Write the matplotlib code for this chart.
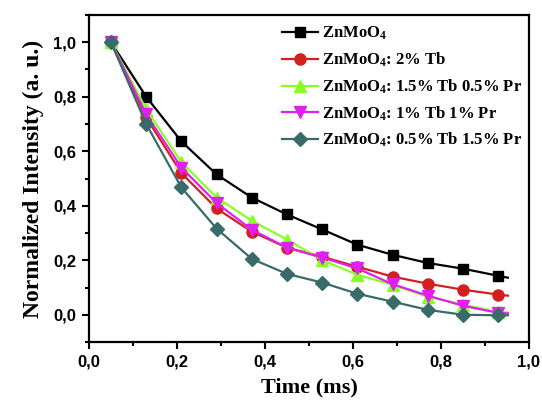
import matplotlib
matplotlib.use("Agg")
import matplotlib.pyplot as plt
from matplotlib.ticker import MultipleLocator, FixedLocator

plt.rcParams['mathtext.fontset'] = 'custom'
plt.rcParams['mathtext.rm'] = 'Liberation Serif:bold'
plt.rcParams['mathtext.bf'] = 'Liberation Serif:bold'
plt.rcParams['mathtext.it'] = 'Liberation Serif:bold'

# time axis (ms): marker positions plus end of line
time = [0.05, 0.13, 0.21, 0.29, 0.37, 0.45, 0.53, 0.61, 0.69, 0.77, 0.85, 0.93, 0.952]

zn     = [1.00, 0.800, 0.636, 0.515, 0.430, 0.368, 0.313, 0.257, 0.220, 0.190, 0.169, 0.143, 0.136]
tb2    = [1.00, 0.724, 0.520, 0.390, 0.305, 0.246, 0.213, 0.176, 0.140, 0.114, 0.092, 0.074, 0.070]
tb15pr05 = [1.00, 0.754, 0.560, 0.430, 0.345, 0.276, 0.200, 0.147, 0.110, 0.066, 0.037, 0.010, 0.008]
tb1pr1 = [1.00, 0.735, 0.540, 0.410, 0.312, 0.246, 0.210, 0.170, 0.112, 0.070, 0.033, 0.007, 0.005]
tb05pr15 = [1.00, 0.700, 0.467, 0.316, 0.205, 0.150, 0.118, 0.077, 0.048, 0.018, 0.000, -0.002, -0.002]

labels = [r'ZnMoO$_4$', r'ZnMoO$_4$: 2% Tb', r'ZnMoO$_4$: 1.5% Tb 0.5% Pr',
          r'ZnMoO$_4$: 1% Tb 1% Pr', r'ZnMoO$_4$: 0.5% Tb 1.5% Pr']
series = [zn, tb2, tb15pr05, tb1pr1, tb05pr15]
colors = ['#000000', '#d41f1f', '#88ff22', '#e020f0', '#3a6b6b']
markers = ['s', 'o', '^', 'v', 'D']
msizes = [7.5, 8, 8.5, 8.5, 7.5]

xticks = [0.0, 0.2, 0.4, 0.6, 0.8, 1.0]
xticklabels = ['0,0', '0,2', '0,4', '0,6', '0,8', '1,0']
yticks = [0.0, 0.2, 0.4, 0.6, 0.8, 1.0]
yticklabels = ['0,0', '0,2', '0,4', '0,6', '0,8', '1,0']

fig = plt.figure(figsize=(5.42, 4.05), dpi=100)
fig.patch.set_facecolor('white')
ax = fig.add_axes([89/542, (405-342)/405, 440/542, 327/405])

for y, c, m, ms, lab in zip(series, colors, markers, msizes, labels):
    ax.plot(time, y, color=c, marker=m, markersize=ms, linewidth=1.6,
            markevery=slice(0, 12), label=lab)

ax.set_xlim(0, 1.0)
ax.set_ylim(-0.1, 1.1)
ax.xaxis.set_major_locator(FixedLocator(xticks))
ax.yaxis.set_major_locator(FixedLocator(yticks))
ax.set_xticklabels(xticklabels)
ax.set_yticklabels(yticklabels)
ax.xaxis.set_minor_locator(MultipleLocator(0.1))
ax.yaxis.set_minor_locator(MultipleLocator(0.1))

for s in ax.spines.values():
    s.set_linewidth(1.6)
ax.tick_params(which='major', direction='out', length=5, width=1.5,
               top=False, right=False, pad=4)
ax.tick_params(which='minor', direction='out', length=3, width=1.5,
               top=False, right=False)
for t in ax.get_xticklabels() + ax.get_yticklabels():
    t.set_fontfamily('Liberation Sans')
    t.set_fontweight('bold')
    t.set_fontsize(12)

ax.set_xlabel('Time (ms)', fontfamily='Liberation Serif', fontweight='bold',
              fontsize=16, labelpad=6)
ax.set_ylabel('Normalized Intensity (a. u.)', fontfamily='Liberation Serif',
              fontweight='bold', fontsize=17, labelpad=7)

leg = ax.legend(loc='upper left', bbox_to_anchor=(0.415, 1.0), frameon=False,
                prop={'family': 'Liberation Serif', 'weight': 'bold', 'size': 12},
                handlelength=2.2, handletextpad=0.25, labelspacing=0.5,
                borderaxespad=0.2)

fig.savefig('out.png', dpi=100, facecolor='white')
